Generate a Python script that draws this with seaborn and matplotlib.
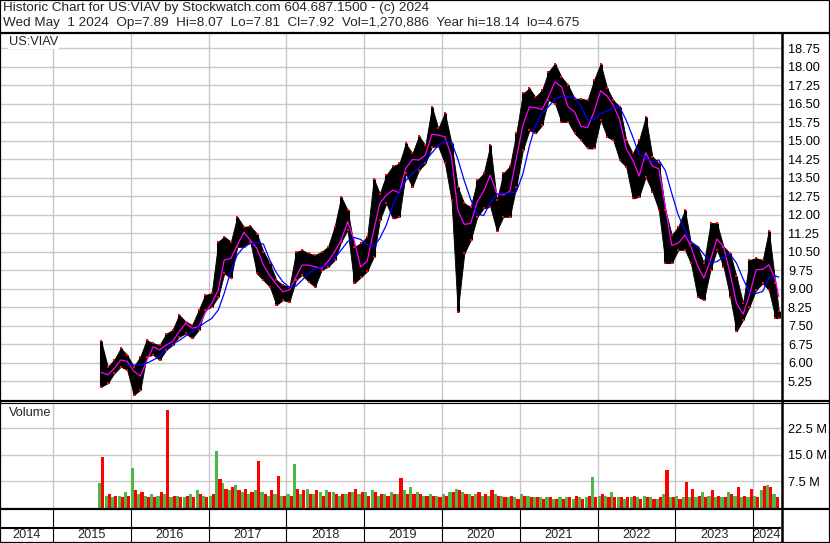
import numpy as np
import pandas as pd
import matplotlib
matplotlib.use("Agg")
import matplotlib.pyplot as plt
import seaborn as sns
from matplotlib.lines import Line2D
from matplotlib.patches import Rectangle

sns.set_theme(style="white")
plt.rcParams["font.family"] = ["Liberation Sans", "DejaVu Sans"]

# ---------------- data (monthly, Aug 2015 .. Apr 2024) ----------------
months = pd.date_range("2015-08-01", "2024-04-01", freq="MS")

price_high = [6.87, 5.83, 6.10, 6.58, 6.31, 5.83, 6.24, 6.91, 6.78, 6.71,
              7.16, 7.32, 7.93, 7.66, 7.52, 8.13, 8.74, 8.81, 10.90, 11.10,
              10.90, 11.91, 11.50, 11.53, 11.23, 10.49, 10.02, 9.34, 9.14, 9.07,
              10.49, 10.56, 10.42, 10.36, 10.49, 10.69, 11.50, 12.72, 12.18, 10.69,
              10.83, 11.10, 13.46, 12.85, 13.60, 13.96, 14.07, 14.88, 14.48, 15.18,
              14.81, 16.37, 15.49, 16.13, 14.88, 13.12, 12.45, 12.31, 13.39, 13.67,
              14.81, 12.58, 13.67, 13.95, 15.29, 16.91, 17.11, 16.77, 17.04, 17.79,
              18.12, 17.58, 17.25, 16.70, 16.70, 16.64, 17.45, 18.12, 17.11, 16.64,
              16.37, 15.02, 14.48, 15.02, 15.96, 14.35, 14.08, 12.19, 11.17, 11.51,
              12.19, 10.84, 10.70, 10.03, 11.65, 11.65, 10.70, 10.43, 9.49, 8.40,
              10.16, 10.23, 10.16, 11.35, 9.21]
price_low = [5.02, 5.16, 5.56, 5.83, 5.70, 4.68, 4.89, 6.24, 6.31, 6.10,
             6.51, 6.71, 7.05, 7.18, 6.98, 7.32, 8.13, 8.26, 8.67, 9.62,
             9.41, 10.69, 10.69, 10.90, 9.61, 9.34, 9.07, 8.33, 8.53, 8.46,
             9.34, 9.55, 9.28, 9.07, 9.75, 9.88, 10.15, 10.90, 11.37, 9.21,
             9.45, 9.70, 10.29, 11.77, 12.45, 11.84, 11.91, 13.67, 13.12, 13.80,
             14.07, 14.75, 14.75, 14.07, 12.58, 8.06, 10.42, 10.96, 11.91, 12.25,
             12.31, 11.34, 11.91, 11.91, 13.12, 14.61, 15.42, 15.29, 15.62, 16.64,
             16.50, 15.76, 15.76, 15.29, 15.02, 14.68, 14.68, 15.83, 15.15, 15.02,
             14.20, 13.94, 12.65, 12.72, 13.53, 12.93, 12.19, 10.03, 10.03, 10.57,
             10.57, 10.03, 8.67, 8.54, 9.76, 10.57, 9.89, 8.67, 7.26, 7.73,
             8.27, 8.94, 9.21, 8.94, 7.80]
ma_fast = [5.60, 5.50, 5.76, 6.10, 6.05, 5.65, 5.45, 6.04, 6.64, 6.51,
           6.71, 6.85, 7.25, 7.59, 7.39, 7.45, 8.00, 8.40, 8.94, 10.16,
           10.22, 10.76, 11.28, 10.96, 10.63, 9.95, 9.51, 9.17, 8.87, 8.94,
           9.48, 9.95, 9.95, 9.88, 9.82, 10.09, 10.49, 10.96, 11.71, 10.96,
           9.88, 10.10, 11.37, 12.45, 12.79, 12.99, 12.88, 13.87, 14.23, 14.21,
           14.41, 15.26, 15.22, 15.15, 14.34, 12.18, 11.60, 11.64, 12.52, 12.95,
           13.60, 12.85, 12.79, 12.95, 14.27, 15.62, 16.37, 16.33, 16.26, 16.77,
           17.38, 17.18, 16.37, 16.16, 15.58, 15.52, 16.16, 17.02, 16.80, 16.44,
           15.83, 14.68, 14.20, 13.56, 14.50, 13.97, 13.85, 12.32, 10.75, 10.84,
           11.17, 10.70, 9.92, 9.42, 10.16, 11.01, 10.70, 9.62, 8.40, 7.96,
           8.74, 9.76, 9.78, 9.96, 9.35]
ma_slow = [np.nan, np.nan, np.nan, np.nan, 5.90, 5.90, 5.90, 5.97, 6.10, 6.24,
           6.58, 6.75, 6.89, 7.08, 7.25, 7.43, 7.62, 7.79, 8.13, 8.81,
           9.72, 10.36, 10.69, 10.82, 10.86, 10.80, 10.15, 9.64, 9.27, 9.05,
           9.10, 9.34, 9.61, 9.78, 9.88, 9.95, 10.22, 10.56, 10.90, 11.07,
           10.99, 10.78, 10.69, 11.03, 11.57, 12.38, 12.92, 13.37, 13.67, 13.91,
           14.17, 14.50, 14.80, 14.99, 14.92, 14.27, 13.37, 12.61, 12.02, 11.96,
           12.48, 12.83, 12.85, 12.88, 12.92, 13.64, 14.79, 15.62, 16.12, 16.37,
           16.68, 16.80, 16.77, 16.75, 16.39, 15.83, 15.85, 16.10, 16.19, 16.33,
           16.35, 15.83, 15.15, 14.43, 14.30, 14.15, 14.21, 13.78, 12.86, 11.97,
           11.38, 10.90, 10.71, 10.38, 10.04, 10.09, 10.27, 10.39, 10.03, 9.39,
           8.84, 8.80, 8.88, 9.42, 9.51]
# volume in millions: up-day (green) and down-day (red) representative bars per month
vol_green = [7.1, 3.5, 3.0, 3.5, 4.5, 11.3, 4.0, 3.5, 4.0, 3.5,
             4.0, 3.0, 3.5, 3.0, 4.0, 5.0, 3.5, 3.5, 16.0, 7.0,
             5.0, 6.5, 4.5, 4.0, 5.0, 4.5, 3.5, 4.0, 3.5, 4.0,
             12.4, 4.0, 5.5, 4.0, 4.5, 5.0, 4.5, 3.5, 4.0, 4.5,
             4.0, 4.5, 5.0, 3.5, 4.0, 4.5, 4.0, 5.0, 6.0, 4.5,
             3.5, 4.0, 3.5, 4.0, 4.5, 5.5, 4.5, 4.0, 4.0, 3.5,
             3.5, 4.0, 3.5, 3.0, 3.0, 4.0, 3.5, 3.0, 3.0, 3.0,
             2.5, 3.0, 3.0, 2.5, 3.0, 3.0, 8.7, 3.5, 3.5, 4.5,
             3.0, 2.5, 3.0, 3.0, 3.5, 3.0, 2.5, 4.0, 3.0, 3.5,
             3.0, 3.0, 3.0, 4.5, 3.5, 3.0, 3.0, 4.5, 3.5, 3.0,
             3.0, 3.5, 5.0, 6.6, 4.0]
vol_red = [14.5, 4.0, 3.5, 3.0, 3.5, 5.0, 4.5, 3.0, 3.0, 4.5,
           27.8, 3.5, 3.0, 3.5, 3.0, 4.0, 3.0, 4.0, 8.2, 5.5,
           6.0, 5.0, 5.5, 4.5, 13.4, 4.0, 5.0, 9.0, 3.5, 3.5,
           5.5, 5.0, 4.0, 5.0, 3.5, 4.5, 4.0, 4.0, 4.5, 5.5,
           4.5, 3.5, 4.5, 4.0, 3.5, 4.0, 8.5, 4.0, 4.0, 4.0,
           3.5, 3.5, 3.0, 3.5, 4.5, 5.0, 4.0, 3.5, 4.5, 4.0,
           5.0, 3.5, 3.0, 3.5, 2.5, 3.5, 3.0, 3.0, 2.5, 3.0,
           2.5, 2.5, 3.0, 3.5, 2.5, 3.5, 3.0, 4.0, 3.0, 3.0,
           3.0, 3.0, 3.5, 2.5, 3.0, 2.5, 3.0, 10.8, 3.0, 2.5,
           7.3, 5.5, 3.5, 3.0, 5.0, 3.5, 3.0, 4.0, 6.0, 3.5,
           5.5, 3.0, 6.2, 6.0, 3.0]
last_date = "2024-05-01"
last_high, last_low, last_fast, last_slow = 8.07, 7.81, 8.67, 9.46

price_ticks = [5.25, 6.00, 6.75, 7.50, 8.25, 9.00, 9.75, 10.50, 11.25, 12.00,
               12.75, 13.50, 14.25, 15.00, 15.75, 16.50, 17.25, 18.00, 18.75]
vol_ticks = [7.5, 15.0, 22.5]
years = list(range(2014, 2025))

header1 = "Historic Chart for US:VIAV by Stockwatch.com 604.687.1500 - (c) 2024"
header2 = ("Wed May  1 2024  Op=7.89  Hi=8.07  Lo=7.81  Cl=7.92  "
           "Vol=1,270,886  Year hi=18.14  lo=4.675")

# ---------------- frames ----------------
mid = months + pd.Timedelta(days=14)
df = pd.DataFrame({"date": list(mid) + [pd.Timestamp(last_date)],
                   "high": price_high + [last_high],
                   "low": price_low + [last_low],
                   "fast": ma_fast + [last_fast],
                   "slow": ma_slow + [last_slow]})

W, H = 830, 543
fig = plt.figure(figsize=(W / 100, H / 100), dpi=100)
fig.patch.set_facecolor("white")


def rect(x0, y0, x1, y1):
    return [x0 / W, 1 - y1 / H, (x1 - x0) / W, (y1 - y0) / H]


ax = fig.add_axes(rect(0, 33, 781, 400))
axv = fig.add_axes(rect(0, 403, 781, 508))
axd = fig.add_axes(rect(0, 509, 781, 543))

xmin, xmax = pd.Timestamp("2014-04-27"), pd.Timestamp("2024-05-11")
year_starts = [pd.Timestamp(f"{y}-01-01") for y in years[1:]]
grid_c = "#c8c8c8"
FS = 9.2

for a in (ax, axv, axd):
    a.set_xlim(xmin, xmax)
    for s in a.spines.values():
        s.set_visible(False)
    a.set_facecolor("white")

# ---- price pane ----
ax.set_ylim(4.48, 19.36)
for t in price_ticks:
    ax.axhline(t, color=grid_c, lw=1, zorder=0)
for d in year_starts:
    ax.axvline(d, color=grid_c, lw=1, zorder=0)
ax.fill_between(df["date"], df["low"], df["high"], color="black", lw=0.6,
                edgecolor="black", zorder=2)
ax.vlines(df["date"], df["low"], df["high"], color="black", lw=2.2, zorder=2)
sns.scatterplot(data=df, x="date", y="low", ax=ax, color="#ff0000", marker="s",
                s=3, linewidth=0, zorder=3)
sns.scatterplot(data=df, x="date", y="high", ax=ax, color="#ff0000", marker="s",
                s=3, linewidth=0, zorder=3)
sns.lineplot(data=df, x="date", y="fast", ax=ax, color="#ff00ff", lw=0.9, zorder=4)
sns.lineplot(data=df, x="date", y="slow", ax=ax, color="#0000ff", lw=0.9, zorder=5)
ax.set_xlabel("")
ax.set_ylabel("")
ax.set_xticks([])
ax.yaxis.tick_right()
ax.set_yticks(price_ticks)
ax.set_yticklabels([f"{t:.2f}" for t in price_ticks])
ax.tick_params(axis="y", length=0, pad=5, labelsize=FS, colors="black")
ax.text(9 / 781, 1 - 9 / 367, "US:VIAV", transform=ax.transAxes, fontsize=FS,
        va="center", ha="left", zorder=6,
        bbox=dict(facecolor="white", edgecolor="none", pad=0.5))

# ---- volume pane ----
axv.set_ylim(0, 29.7)
for t in vol_ticks:
    axv.axhline(t, color=grid_c, lw=1, zorder=0)
for d in year_starts:
    axv.axvline(d, color=grid_c, lw=1, zorder=0)
axv.bar(months + pd.Timedelta(days=7), vol_green, width=15, color="#4cb848",
        lw=0, align="center", zorder=2)
axv.bar(months + pd.Timedelta(days=22), vol_red, width=15, color="#ff0000",
        lw=0, align="center", zorder=2)
axv.set_xticks([])
axv.yaxis.tick_right()
axv.set_yticks(vol_ticks)
axv.set_yticklabels([f"{t:.1f} M" for t in vol_ticks])
axv.tick_params(axis="y", length=0, pad=5, labelsize=FS, colors="black")
axv.text(9 / 781, 1 - 10 / 105, "Volume", transform=axv.transAxes, fontsize=FS,
         va="center", ha="left")

# ---- date rows ----
axd.set_ylim(0, 1)
axd.set_xticks([])
axd.set_yticks([])
for d in year_starts:
    axd.axvline(d, color="black", lw=0.8)
axd.axhline((543 - 527.5) / 34, color="black", lw=1.5)
bounds = [xmin] + year_starts + [xmax]
for i, y in enumerate(years):
    c = bounds[i] + (bounds[i + 1] - bounds[i]) / 2
    axd.text(c, (543 - 535.5) / 34, str(y), ha="center", va="center",
             fontsize=FS)

# ---- figure lines and header ----
def hline(y, lw):
    fig.add_artist(Line2D([0, 1], [1 - y / H] * 2, transform=fig.transFigure,
                          color="black", lw=lw))


hline(32.5, 1.6)
hline(400.5, 1.6)
hline(402.5, 0.8)
hline(508.8, 1.6)
fig.add_artist(Line2D([781.5 / W] * 2, [0, 1 - 33 / H], transform=fig.transFigure,
                      color="black", lw=1.8))
fig.add_artist(Rectangle((0, 0), 1, 1, transform=fig.transFigure, fill=False,
                         ec="black", lw=1.6))
fig.text(3 / W, 1 - 8.5 / H, header1, fontsize=9.7, va="center", ha="left")
fig.text(3 / W, 1 - 23 / H, header2, fontsize=9.7, va="center", ha="left")

fig.savefig("out.png", dpi=100)
